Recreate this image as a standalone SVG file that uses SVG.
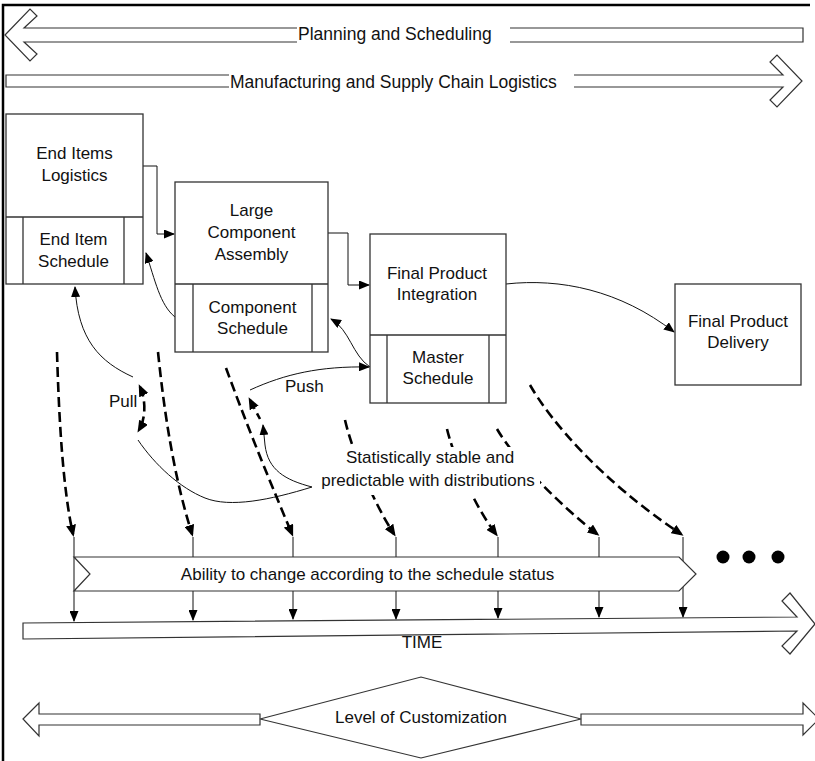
<svg xmlns="http://www.w3.org/2000/svg" width="815" height="761" viewBox="0 0 815 761">
<style>
text{font-family:"Liberation Sans",Arial,sans-serif;font-size:17px;fill:#111}
.m{text-anchor:middle}
.box{fill:#fff;stroke:#333;stroke-width:1.3}
.ln{fill:none;stroke:#333;stroke-width:1.3}
.big{fill:#fff;stroke:#333;stroke-width:1.2;stroke-linejoin:miter}
.c{fill:none;stroke:#111;stroke-width:1}
.d{fill:none;stroke:#000;stroke-width:2.6;stroke-dasharray:10 5}
</style>
<defs>
<marker id="a" markerUnits="userSpaceOnUse" markerWidth="11" markerHeight="9" viewBox="0 0 11 9" refX="10" refY="4.5" orient="auto"><path d="M0,0 L11,4.5 L0,9z" fill="#000"/></marker>
<marker id="b" markerUnits="userSpaceOnUse" markerWidth="12" markerHeight="10" viewBox="0 0 12 10" refX="9" refY="5" orient="auto-start-reverse"><path d="M0,0 L12,5 L0,10z" fill="#000"/></marker>
</defs>
<rect width="815" height="761" fill="#fff"/>
<path d="M3,761 V5 H810" fill="none" stroke="#000" stroke-width="2.5"/>

<g id="planning">
<polygon class="big" points="5,35 30,9 37,16 24,28 803,28 803,42 24,42 37,54 30,61"/>
<rect x="297" y="26" width="213" height="18" fill="#fff"/>
<text x="298" y="40" style="font-size:17.5px">Planning and Scheduling</text>
</g>
<g id="manufacturing">
<polygon class="big" points="6,75 783,75 770,62 777,55 802,81 777,107 770,100 783,87 6,87"/>
<rect x="229" y="73" width="345" height="17" fill="#fff"/>
<text x="230" y="88" style="font-size:17.5px">Manufacturing and Supply Chain Logistics</text>
</g>

<g id="connectors">
<path class="c" d="M143,166 H157 V234 H174" marker-end="url(#a)"/>
<path class="c" d="M328,233 H348 V285 H369" marker-end="url(#a)"/>
<path class="c" d="M506,284 C560,278 620,290 674,332" marker-end="url(#a)"/>
<path class="c" d="M175,317 C160,305 155,280 146,253" marker-end="url(#a)"/>
<path class="c" d="M370,367 C352,355 350,330 331,319" marker-end="url(#a)"/>
<path class="c" d="M133,377 C100,362 78,340 75,287" marker-end="url(#a)"/>
<path class="c" d="M250,390 C285,374 320,366 369,367" marker-end="url(#a)"/>
<path class="c" d="M312,487 C270,500 230,508 205,498 C180,488 155,465 138,440"/>
<path class="c" d="M312,487 C285,480 268,470 265,445 L263,425" marker-end="url(#a)"/>
<path class="d" d="M140,387 C146,400 146,418 139,430" marker-start="url(#b)" marker-end="url(#b)"/>
<path class="d" d="M250,400 L260,419" marker-start="url(#b)"/>
<path class="d" d="M57,352 C59,420 63,490 73,534" marker-end="url(#b)"/>
<path class="d" d="M158,352 C165,420 175,480 192,534" marker-end="url(#b)"/>
<path class="d" d="M226,368 C245,420 265,470 292,534" marker-end="url(#b)"/>
<path class="d" d="M345,420 C352,450 372,500 394,534" marker-end="url(#b)"/>
<path class="d" d="M447,429 C452,450 470,500 496,534" marker-end="url(#b)"/>
<path class="d" d="M497,429 C515,460 560,505 597,534" marker-end="url(#b)"/>
<path class="d" d="M530,385 C550,420 600,480 681,534" marker-end="url(#b)"/>
<path class="c" d="M74,537 V621" marker-end="url(#a)"/>
<path class="c" d="M193,537 V620" marker-end="url(#a)"/>
<path class="c" d="M293,537 V619" marker-end="url(#a)"/>
<path class="c" d="M396,537 V619" marker-end="url(#a)"/>
<path class="c" d="M498,537 V618" marker-end="url(#a)"/>
<path class="c" d="M599,537 V617" marker-end="url(#a)"/>
<path class="c" d="M683,537 V617" marker-end="url(#a)"/>
</g>

<g id="end-items">
<rect class="box" x="6" y="114" width="137" height="170"/>
<path class="ln" d="M6,217 H143 M23,217 V284 M124,217 V284"/>
<text class="m" x="74.5" y="159">End Items</text>
<text class="m" x="74.5" y="181">Logistics</text>
<text class="m" x="73.5" y="245">End Item</text>
<text class="m" x="73.5" y="267">Schedule</text>
</g>
<g id="large-component">
<rect class="box" x="175" y="182" width="153" height="170"/>
<path class="ln" d="M175,284 H328 M193,284 V352 M312,284 V352"/>
<text class="m" x="251.5" y="216">Large</text>
<text class="m" x="251.5" y="238">Component</text>
<text class="m" x="251.5" y="260">Assembly</text>
<text class="m" x="252.5" y="313">Component</text>
<text class="m" x="252.5" y="334">Schedule</text>
</g>
<g id="final-integration">
<rect class="box" x="370" y="234" width="136" height="169"/>
<path class="ln" d="M370,335 H506 M387,335 V403 M489,335 V403"/>
<text class="m" x="437" y="279">Final Product</text>
<text class="m" x="437" y="300">Integration</text>
<text class="m" x="438" y="363">Master</text>
<text class="m" x="438" y="384">Schedule</text>
</g>
<g id="final-delivery">
<rect class="box" x="675" y="284" width="126" height="101"/>
<text class="m" x="738" y="327">Final Product</text>
<text class="m" x="738" y="348">Delivery</text>
</g>

<g id="statistically">
<rect x="318" y="447" width="222" height="48" fill="#fff"/>
<text class="m" x="430" y="463">Statistically stable and</text>
<text class="m" x="428" y="486">predictable with distributions</text>
</g>
<g id="labels">
<text x="109" y="407">Pull</text>
<text x="285" y="392">Push</text>
</g>

<g id="ability">
<polygon class="big" points="74,557 679,557 696,574 679,591 74,591 90,574"/>
<text class="m" x="367.5" y="580">Ability to change according to the schedule status</text>
</g>
<g id="dots">
<circle cx="723" cy="557" r="6.5"/>
<circle cx="749" cy="557" r="6.5"/>
<circle cx="778" cy="557" r="6.5"/>
</g>
<g id="time">
<polygon class="big" points="23,623 797,617 782,601 790,593 815,624 790,654 782,646 797,631 23,639"/>
<text class="m" x="422" y="648">TIME</text>
</g>
<g id="customization">
<polygon class="big" points="23,719 39,703 39,714 260,714 260,725 39,725 39,736"/>
<polygon class="big" points="581,714 803,714 803,703 819,719 803,735 803,725 581,725"/>
<polygon class="big" points="260,719 421,677 581,719 421,758"/>
<text class="m" x="421" y="723">Level of Customization</text>
</g>
</svg>
